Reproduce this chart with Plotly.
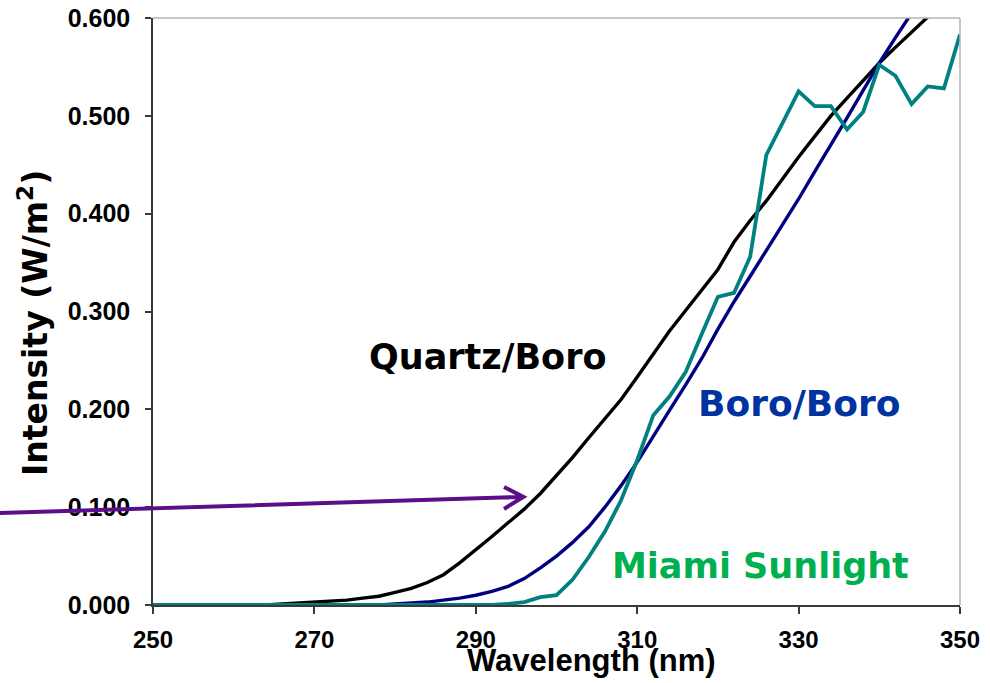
import plotly.graph_objects as go

# Spectral irradiance sampled every 2 nm from 250 to 350 nm
wavelength_nm = list(range(250, 352, 2))

quartz_boro = [
    0, 0, 0, 0, 0, 0, 0, 0,
    0.001, 0.002, 0.003, 0.004, 0.005, 0.007, 0.009, 0.013, 0.017, 0.023,
    0.031, 0.043, 0.056, 0.070, 0.084, 0.098, 0.114, 0.132, 0.151, 0.171,
    0.190, 0.210, 0.233, 0.257, 0.280, 0.301, 0.322, 0.343, 0.371, 0.393,
    0.413, 0.436, 0.458, 0.479, 0.500, 0.518, 0.536, 0.554, 0.570, 0.586,
    0.601, 0.616, 0.630,
]

boro_boro = [
    0, 0, 0, 0, 0, 0, 0, 0, 0, 0, 0, 0, 0, 0, 0,
    0.001, 0.002, 0.003, 0.005, 0.007, 0.010, 0.014, 0.019, 0.027, 0.038,
    0.050, 0.064, 0.080, 0.100, 0.122, 0.146, 0.173, 0.199, 0.225, 0.252,
    0.282, 0.310, 0.336, 0.362, 0.388, 0.415, 0.443, 0.470, 0.498, 0.526,
    0.554, 0.580, 0.605, 0.630, 0.655, 0.680,
]

miami_sunlight = [
    0, 0, 0, 0, 0, 0, 0, 0, 0, 0, 0, 0, 0, 0, 0, 0, 0, 0, 0, 0, 0, 0,
    0.001, 0.003, 0.008, 0.010, 0.026, 0.049, 0.075, 0.107, 0.148, 0.194,
    0.213, 0.238, 0.277, 0.315, 0.319, 0.356, 0.460, 0.492, 0.525, 0.510,
    0.510, 0.486, 0.504, 0.552, 0.541, 0.512, 0.530, 0.528, 0.583,
]

x_ticks = [250, 270, 290, 310, 330, 350]
y_ticks = [0.0, 0.1, 0.2, 0.3, 0.4, 0.5, 0.6]
X_RANGE = [250, 350]
Y_RANGE = [0.0, 0.6]

ARIAL = "Liberation Sans, Arial, sans-serif"
DEJAVU = "DejaVu Sans, Verdana, sans-serif"
AXIS_DARK = "#3a3a3a"
FRAME_GREY = "#b4b4b4"
ARROW_PURPLE = "#5a0e8a"

series = [
    ("Quartz/Boro", quartz_boro, "#000000", 3.4),
    ("Boro/Boro", boro_boro, "#000080", 3.4),
    ("Miami Sunlight", miami_sunlight, "#008080", 3.8),
]

fig = go.Figure()
for name, values, color, width in series:
    fig.add_trace(go.Scatter(
        x=wavelength_nm, y=values, mode="lines", name=name,
        line=dict(color=color, width=width),
    ))


def to_paper(x, y):
    """Convert data units to paper fractions so the arrow can leave the plot area."""
    px = (x - X_RANGE[0]) / (X_RANGE[1] - X_RANGE[0])
    py = (y - Y_RANGE[0]) / (Y_RANGE[1] - Y_RANGE[0])
    return px, py


# Pointer arrow entering from the left edge toward the Quartz/Boro curve
tail = to_paper(231.0, 0.094)
tip = to_paper(295.9, 0.1105)
arm_up = to_paper(293.5, 0.1207)
arm_dn = to_paper(293.5, 0.0982)
arrow_path = (
    f"M {tail[0]} {tail[1]} L {tip[0]} {tip[1]} "
    f"M {arm_up[0]} {arm_up[1]} L {tip[0]} {tip[1]} L {arm_dn[0]} {arm_dn[1]}"
)

shapes = [
    # light grey top and right frame edges
    dict(type="line", xref="paper", yref="paper", x0=0, y0=1, x1=1, y1=1,
         line=dict(color=FRAME_GREY, width=1.5)),
    dict(type="line", xref="paper", yref="paper", x0=1, y0=0, x1=1, y1=1,
         line=dict(color=FRAME_GREY, width=1.5)),
    dict(type="path", xref="paper", yref="paper", path=arrow_path,
         line=dict(color=ARROW_PURPLE, width=4)),
]

annotations = [
    dict(x=291.5, y=0.254, xref="x", yref="y", text="Quartz/Boro",
         showarrow=False, font=dict(family=DEJAVU, size=35, color="#000000", weight="bold")),
    dict(x=330.1, y=0.2055, xref="x", yref="y", text="Boro/Boro",
         showarrow=False, font=dict(family=DEJAVU, size=36, color="#0033a0", weight="bold")),
    dict(x=325.3, y=0.0394, xref="x", yref="y", text="Miami Sunlight",
         showarrow=False, font=dict(family=DEJAVU, size=35, color="#00b050", weight="bold")),
    # axis titles
    dict(x=-0.1487, y=0.4804, xref="paper", yref="paper", textangle=-90,
         text="Intensity (W/m<sup>2</sup>)", showarrow=False,
         xanchor="center", yanchor="middle",
         font=dict(family=DEJAVU, size=33, color="#000000", weight="bold")),
    dict(x=0.5428, y=-0.0954, xref="paper", yref="paper",
         text="Wavelength (nm)", showarrow=False,
         xanchor="center", yanchor="middle",
         font=dict(family=ARIAL, size=31, color="#000000", weight="bold")),
]

fig.update_layout(
    width=990, height=683,
    margin=dict(l=153, r=30, t=18, b=78, autoexpand=False),
    paper_bgcolor="white", plot_bgcolor="white",
    showlegend=False,
    font=dict(family=ARIAL, color="#000000"),
    shapes=shapes,
    annotations=annotations,
    xaxis=dict(
        range=X_RANGE, tickvals=x_ticks, ticks="outside", ticklen=7,
        tickwidth=1.5, tickcolor=AXIS_DARK, showline=True, linecolor=AXIS_DARK,
        linewidth=1.5, showgrid=False, zeroline=False, automargin=False,
        ticklabelstandoff=5,
        tickfont=dict(family=ARIAL, size=24, color="#000000", weight="bold"),
    ),
    yaxis=dict(
        range=Y_RANGE, tickvals=y_ticks, tickformat=".3f", ticks="outside",
        ticklen=6, tickwidth=1.5, tickcolor=AXIS_DARK, showline=True,
        linecolor=AXIS_DARK, linewidth=1.5, showgrid=False, zeroline=False,
        automargin=False, ticklabelstandoff=10,
        tickfont=dict(family=ARIAL, size=25, color="#000000", weight="bold"),
    ),
)

fig.write_html("out.html")
